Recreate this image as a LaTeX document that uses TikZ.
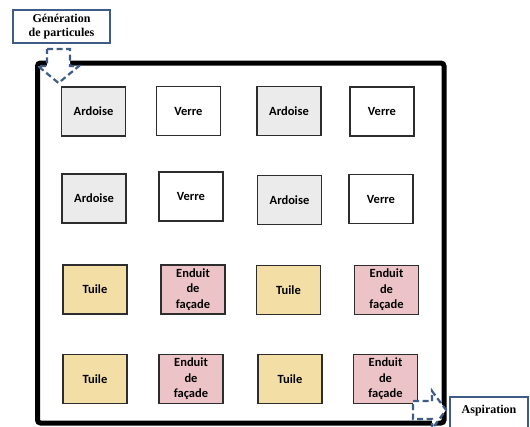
\documentclass[tikz,border=0pt]{standalone}
\usepackage{fontspec}
\setmainfont{Liberation Serif}
\newfontfamily\boxfont{Carlito}
\definecolor{arrowblue}{RGB}{62,92,135}
\definecolor{slate}{RGB}{235,235,235}
\definecolor{tile}{RGB}{243,222,165}
\definecolor{render}{RGB}{236,196,200}
\definecolor{edge}{RGB}{45,45,45}
\tikzset{
  sample/.style={draw=edge, line width=1.2pt, minimum width=64pt, minimum height=49pt,
    inner sep=0pt, align=center, font=\boxfont\bfseries\fontsize{12.5}{15.5}\selectfont},
  ardoise/.style={sample, fill=slate},
  verre/.style={sample, fill=white},
  tuile/.style={sample, fill=tile},
  enduit/.style={sample, fill=render},
  labelbox/.style={draw=arrowblue, line width=1.5pt, fill=white, align=center,
    font=\bfseries\fontsize{12}{14}\selectfont},
  flowarrow/.style={draw=arrowblue, dash pattern=on 6pt off 3.5pt, line width=2.2pt, fill=white}
}
\begin{document}
\begin{tikzpicture}[x=1pt,y=-1pt]
\useasboundingbox (0,0) rectangle (530,426);
\begin{scope}
\clip (0,0) rectangle (530,426);
% frame
\draw[line width=5pt, rounded corners=3pt] (37.5,63) rectangle (444,423);
% samples row 1
\node[ardoise] (a11) at (93.5,111.5) {Ardoise};
\node[verre]   (v12) at (188.5,111) {Verre};
\node[ardoise] (a13) at (289,111) {Ardoise};
\node[verre]   (v14) at (382,111.5) {Verre};
% row 2
\node[ardoise] (a21) at (94,198.5) {Ardoise};
\node[verre]   (v22) at (191,196.5) {Verre};
\node[ardoise] (a23) at (289.5,200) {Ardoise};
\node[verre]   (v24) at (381,199) {Verre};
% row 3
\node[tuile]  (t31) at (95,289.5) {Tuile};
\node[enduit] (e32) at (193,289.5) {Enduit\\de\\façade};
\node[tuile]  (t33) at (288.5,290) {Tuile};
\node[enduit] (e34) at (386.5,290) {Enduit\\de\\façade};
% row 4
\node[tuile]  (t41) at (95,379) {Tuile};
\node[enduit] (e42) at (191,379) {Enduit\\de\\façade};
\node[tuile]  (t43) at (290,379) {Tuile};
\node[enduit] (e44) at (385.5,379) {Enduit\\de\\façade};
% inlet arrow
\draw[flowarrow] (47,49) -- (70,49) -- (70,66) -- (79,66) -- (58.5,83) -- (38,66) -- (47,66) -- cycle;
% outlet arrow
\draw[flowarrow] (413,401) -- (432,401) -- (432,391) -- (446,410) -- (432,429) -- (432,419) -- (413,419) -- cycle;
% labels
\node[labelbox, minimum width=97pt, minimum height=33pt, inner sep=1pt] (gen) at (61.5,26.5) {Génération\\de particules};
\draw[arrowblue, line width=1.5pt, fill=white] (450,397) rectangle (528,432);
\node[font=\bfseries\fontsize{12}{14}\selectfont] (asp) at (489,411) {Aspiration};
\end{scope}
\end{tikzpicture}
\end{document}
